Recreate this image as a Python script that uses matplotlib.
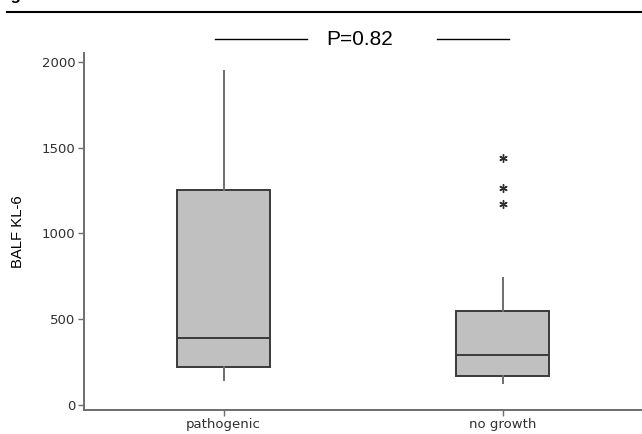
import matplotlib
matplotlib.use("Agg")
import matplotlib.pyplot as plt
from matplotlib.lines import Line2D

# Data
categories = ["pathogenic", "no growth"]
whisker_low = [146, 128]
q1 = [222, 169]
median = [391, 292]
q3 = [1254, 548]
whisker_high = [1947, 741]
outliers = [[], [1172, 1265, 1440]]
yticks = [0, 500, 1000, 1500, 2000]
p_text = "P=0.82"

fig = plt.figure(figsize=(6.42, 4.34), dpi=100)
ax = fig.add_axes([84/642, (434-410)/434, 1 - 84/642, (410-53)/434])

stats = []
for i, c in enumerate(categories):
    stats.append(dict(label=c, whislo=whisker_low[i], q1=q1[i], med=median[i],
                      q3=q3[i], whishi=whisker_high[i], fliers=outliers[i]))

ax.bxp(stats, positions=[1, 2], widths=0.333, patch_artist=True, showcaps=False,
       boxprops=dict(facecolor="#c0c0c0", edgecolor="#3a3a3a", linewidth=1.4),
       medianprops=dict(color="#3a3a3a", linewidth=1.4),
       whiskerprops=dict(color="#6e6e6e", linewidth=1.4),
       flierprops=dict(marker=(6, 2, 0), markersize=6, markeredgecolor="#303030",
                       markerfacecolor="#303030", markeredgewidth=1.0))

ax.set_xlim(0.5, 2.5)
ax.set_ylim(-29, 2052)
ax.set_yticks(yticks)
ax.set_yticklabels([str(v) for v in yticks])
ax.set_xticks([1, 2])
ax.set_xticklabels(categories)

for s in ["top", "right"]:
    ax.spines[s].set_visible(False)
for s in ["left", "bottom"]:
    ax.spines[s].set_color("#6e6e6e")
    ax.spines[s].set_linewidth(1.4)

ax.tick_params(axis="both", direction="out", length=4, width=1, color="#6e6e6e",
               labelcolor="#303030", labelsize=9.5, pad=2)
for lab in ax.get_xticklabels() + ax.get_yticklabels():
    lab.set_family("DejaVu Sans")

ax.set_ylabel("BALF KL-6", fontsize=10.7, family="Liberation Sans", labelpad=12)

# P-value annotation
ax.plot([0.968, 1.301], [2131, 2131], color="black", lw=1, clip_on=False)
ax.plot([1.767, 2.025], [2131, 2131], color="black", lw=1, clip_on=False)
ax.text(1.487, 2131, p_text, ha="center", va="center", fontsize=15,
        family="Liberation Sans", clip_on=False)

# Figure header rule and cut-off title
fig.add_artist(Line2D([7/642, 1], [(434-12)/434, (434-12)/434], color="black", lw=1.5,
                      transform=fig.transFigure))
fig.text(-4/642, 1.0, "Figure 3", fontsize=12, fontweight="bold", ha="left",
         va="baseline", family="Liberation Sans")

fig.savefig("out.png", dpi=100)
